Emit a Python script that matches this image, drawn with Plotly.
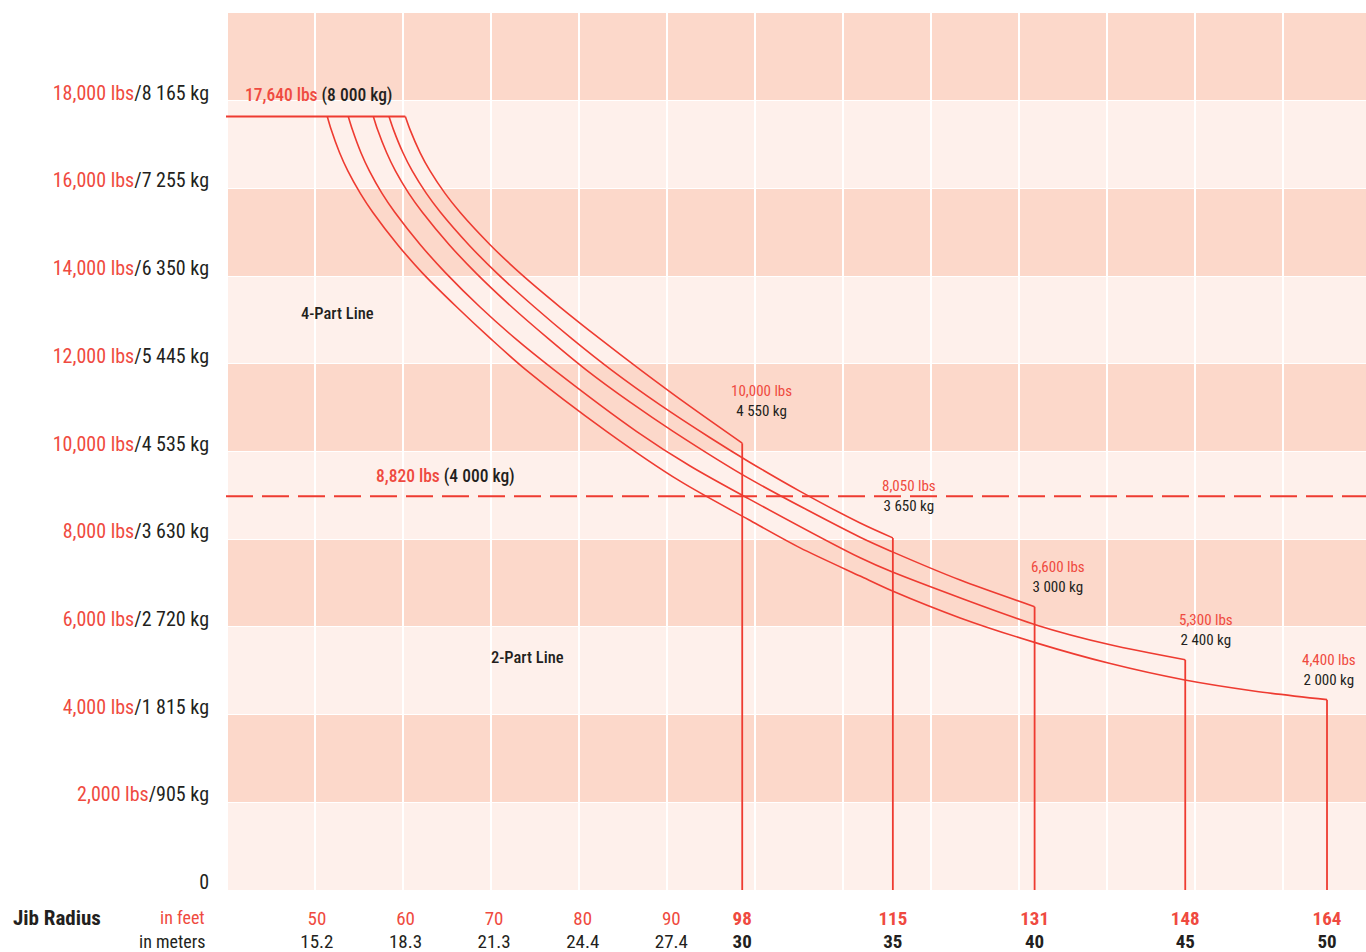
import plotly.graph_objects as go

# ---------------- data ----------------
radius_tick_ft = [50, 60, 70, 80, 90, 98, 115, 131, 148, 164]
radius_tick_m = ["15.2", "18.3", "21.3", "24.4", "27.4", "30", "35", "40", "45", "50"]
bold_ticks = [98, 115, 131, 148, 164]

load_tick_lbs = [0, 2000, 4000, 6000, 8000, 10000, 12000, 14000, 16000, 18000]
load_tick_kg = ["", "905", "1 815", "2 720", "3 630", "4 535", "5 445", "6 350", "7 255", "8 165"]

max_load_lbs = 17640          # flat 4-part line limit
derate_lbs = 8980             # dashed 2-part line limit (drawn position)

# jib curves (radius ft, load lbs)
a_ft = [59.98, 60.51, 61.64, 62.77, 64.46, 66.15, 69.54, 72.93, 77.44, 81.96, 86.48, 92.12, 98]
a_lbs = [17640, 17341, 16818, 16398, 15886, 15455, 14716, 14068, 13295, 12568, 11868, 11027, 10189]

b_ft = [58.14, 58.64, 59.70, 60.76, 62.35, 63.94, 67.13, 70.31, 74.55, 78.80, 83.18, 88.73,
        94.38, 98.70, 104.54, 111.31, 115]
b_lbs = [17640, 17341, 16818, 16398, 15886, 15455, 14716, 14068, 13295, 12568, 11868, 11063,
         10314, 9773, 9091, 8370, 8030]

c_ft = [56.37, 56.84, 57.86, 58.86, 60.37, 61.90, 64.93, 67.96, 72.00, 76.15, 80.35, 85.35,
        90.24, 98.70, 111.31, 114.96, 122.60, 131]
c_lbs = [17640, 17341, 16818, 16398, 15886, 15455, 14716, 14068, 13295, 12568, 11868, 11125,
         10455, 9393, 8045, 7711, 7068, 6461]

d_ft = [53.54, 54.00, 54.96, 55.92, 57.35, 58.79, 61.67, 64.55, 68.41, 72.44, 76.73, 86.10,
        92.12, 98.70, 111.31, 114.96, 131.26, 139.54, 148]
d_lbs = [17640, 17341, 16818, 16398, 15886, 15455, 14716, 14068, 13295, 12568, 11868, 10455,
         9668, 8925, 7575, 7250, 6039, 5591, 5250]

e_ft = [51.17, 51.61, 52.55, 53.49, 54.90, 56.30, 59.11, 61.92, 65.78, 69.63, 73.56, 82.72,
        90.99, 98.70, 104.54, 111.31, 114.96, 122.60, 131.26, 139.54, 147.81, 155.91, 164]
e_lbs = [17640, 17341, 16818, 16398, 15886, 15455, 14716, 14068, 13295, 12568, 11868, 10455,
         9323, 8448, 7802, 7159, 6818, 6205, 5630, 5164, 4795, 4534, 4341]

end_lbs_text = ["10,000 lbs", "8,050 lbs", "6,600 lbs", "5,300 lbs", "4,400 lbs"]
end_kg_text = ["4 550 kg", "3 650 kg", "3 000 kg", "2 400 kg", "2 000 kg"]

# ---------------- styles ----------------
RED = "#EE3B31"
RED_TXT = "#EF4A40"
DARK = "#231F20"
BAND_DARK = "#FCD8CA"
BAND_LIGHT = "#FEF0EB"
FONT = "Roboto Condensed, Roboto, sans-serif"
x_range = [39.74, 168.4]
y_range = [0, 20000]
label_shift = [(19, 42), (16, 42), (23, 30), (21, 30), (2, 30)]

curves = [(a_ft, a_lbs), (b_ft, b_lbs), (c_ft, c_lbs), (d_ft, d_lbs), (e_ft, e_lbs)]

fig = go.Figure()

# flat max-load line
fig.add_trace(go.Scatter(x=[x_range[0], a_ft[0]], y=[max_load_lbs, max_load_lbs],
                         mode="lines", line=dict(color=RED, width=1.8),
                         hoverinfo="skip", showlegend=False))
# dashed 2-part line
fig.add_trace(go.Scatter(x=x_range, y=[derate_lbs, derate_lbs], mode="lines",
                         line=dict(color=RED, width=1.8, dash="27px,9px"),
                         hoverinfo="skip", showlegend=False))

for xs, ys in curves:
    fig.add_trace(go.Scatter(x=xs, y=ys, mode="lines",
                             line=dict(color=RED, width=1.6, shape="spline", smoothing=0.8),
                             hoverinfo="skip", showlegend=False))
    fig.add_trace(go.Scatter(x=[xs[-1], xs[-1]], y=[ys[-1], 0], mode="lines",
                             line=dict(color=RED, width=1.8),
                             hoverinfo="skip", showlegend=False))

# dummy trace for the metres axis
fig.add_trace(go.Scatter(x=[x_range[0]], y=[0], xaxis="x2", mode="markers",
                         marker=dict(opacity=0), hoverinfo="skip", showlegend=False))

# background bands: dark for every other 2,000 lb stripe
shapes = []
for k in range(10):
    if k % 2 == 1:
        shapes.append(dict(type="rect", xref="paper", yref="y", x0=0, x1=1,
                           y0=k * 2000, y1=k * 2000 + 2000,
                           fillcolor=BAND_DARK, line=dict(width=0), layer="below"))

# tick texts
ft_text = [f"<b>{v}</b>" if v in bold_ticks else str(v) for v in radius_tick_ft]
m_text = [f"<b>{m}</b>" if v in bold_ticks else m for v, m in zip(radius_tick_ft, radius_tick_m)]
y_text = []
for v, kg in zip(load_tick_lbs, load_tick_kg):
    if v == 0:
        y_text.append("0")
    else:
        y_text.append(f'<span style="color:{RED_TXT}">{v:,} lbs</span>/{kg} kg')

annotations = []
for (xs, ys), lt, kt, (dx, dy) in zip(curves, end_lbs_text, end_kg_text, label_shift):
    annotations.append(dict(x=xs[-1], y=ys[-1], xref="x", yref="y", showarrow=False,
                            xshift=dx, yshift=dy, xanchor="center", yanchor="middle",
                            text=f'<span style="color:{RED_TXT}">{lt}</span><br>{kt}',
                            font=dict(family=FONT, size=15, color=DARK), align="center"))

annotations += [
    dict(x=41.67, y=max_load_lbs, xref="x", yref="y", xanchor="left", yanchor="middle",
         yshift=21, showarrow=False,
         text=f'<span style="color:{RED_TXT}">{max_load_lbs:,} lbs</span> (8 000 kg)',
         font=dict(family=FONT, size=17.5, color=DARK, weight=500)),
    dict(x=56.45, y=derate_lbs, xref="x", yref="y", xanchor="left", yanchor="middle",
         yshift=20, showarrow=False,
         text=f'<span style="color:{RED_TXT}">8,820 lbs</span> (4 000 kg)',
         font=dict(family=FONT, size=17.5, color=DARK, weight=500)),
    dict(x=52.27, y=13136, xref="x", yref="y", showarrow=False, text="4-Part Line",
         font=dict(family=FONT, size=16.5, color=DARK, weight=500)),
    dict(x=73.72, y=5295, xref="x", yref="y", showarrow=False, text="2-Part Line",
         font=dict(family=FONT, size=16.5, color=DARK, weight=500)),
    dict(x=-0.1885, y=-0.0319, xref="paper", yref="paper", xanchor="left", yanchor="middle",
         showarrow=False, text="<b>Jib Radius</b>", font=dict(family=FONT, size=21, color=DARK)),
    dict(x=-0.0167, y=-0.0319, xref="paper", yref="paper", xanchor="right", yanchor="middle",
         showarrow=False, text="in feet", font=dict(family=FONT, size=18, color=RED_TXT)),
    dict(x=-0.0167, y=-0.0582, xref="paper", yref="paper", xanchor="right", yanchor="middle",
         showarrow=False, text="in meters", font=dict(family=FONT, size=18, color=DARK)),
]

fig.update_layout(
    width=1366, height=952,
    margin=dict(l=226, r=0, t=13, b=62, pad=0),
    paper_bgcolor="white", plot_bgcolor=BAND_LIGHT,
    shapes=shapes, annotations=annotations,
    font=dict(family=FONT, color=DARK),
    xaxis=dict(range=x_range, tickmode="array", tickvals=radius_tick_ft, ticktext=ft_text,
               tickfont=dict(family=FONT, size=19, color=RED_TXT),
               showgrid=False, zeroline=False, showline=False, ticks="",
               ticklabelstandoff=15,
               minor=dict(tickmode="linear", tick0=49.79, dtick=9.934, showgrid=True,
                          gridcolor="white", gridwidth=1.5, ticks="")),
    xaxis2=dict(range=x_range, overlaying="x", anchor="y", side="bottom",
                tickmode="array", tickvals=radius_tick_ft, ticktext=m_text,
                tickfont=dict(family=FONT, size=19, color=DARK),
                showgrid=False, zeroline=False, showline=False, ticks="",
                ticklabelstandoff=38),
    yaxis=dict(range=y_range, tickmode="array", tickvals=load_tick_lbs, ticktext=y_text,
               tickfont=dict(family=FONT, size=20, color=DARK),
               showgrid=True, gridcolor="white", gridwidth=1, zeroline=False,
               showline=False, ticks="", ticklabelstandoff=16, ticklabelshift=-8),
)

fig.write_html("out.html",
               config={"displayModeBar": False},
               post_script="document.body.style.margin='0px';document.body.style.overflow='hidden';")
